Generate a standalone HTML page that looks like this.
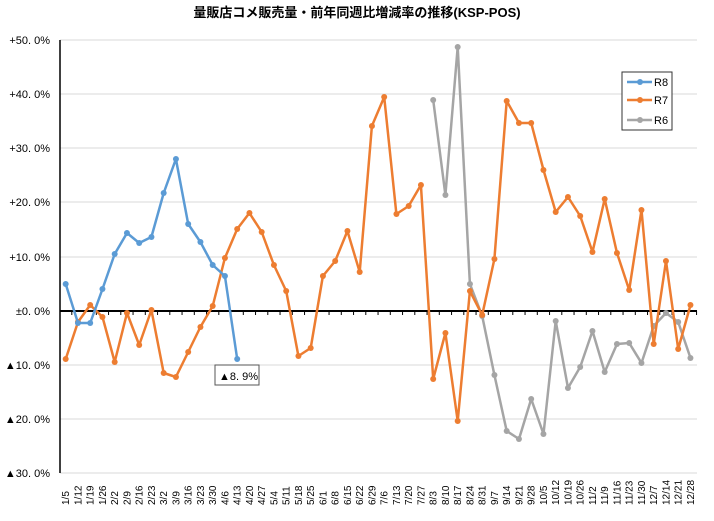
<!DOCTYPE html>
<html><head><meta charset="utf-8"><style>
html,body{margin:0;padding:0;background:#fff;}
svg{display:block;font-family:"Liberation Sans","Noto Sans CJK JP",sans-serif;}
</style></head><body>
<svg id="s" width="714" height="521" xmlns="http://www.w3.org/2000/svg">
<rect width="714" height="521" fill="#fff"/>
<text x="357" y="17" text-anchor="middle" font-size="13" font-weight="bold" fill="#000">量販店コメ販売量・前年同週比増減率の推移(KSP-POS)</text>
<g id="grid" stroke="#d9d9d9" stroke-width="1"></g>
<g id="ylab" font-size="11" fill="#000" text-anchor="end"></g>
<line x1="60" y1="40" x2="60" y2="473" stroke="#000" stroke-width="1.5"/>
<line x1="60" y1="311" x2="697" y2="311" stroke="#000" stroke-width="2"/>
<g id="ticks" stroke="#000" stroke-width="1"></g>
<g id="xlab" font-size="10" fill="#000"></g>
<g id="series"></g>
<rect x="215" y="365" width="44" height="20" fill="#fff" stroke="#555" stroke-width="1"/>
<text x="219" y="380" font-size="11" fill="#000">▲8. 9%</text>
<rect x="622" y="72" width="50" height="58" fill="#fff" stroke="#333" stroke-width="1"/>
<g font-size="11" fill="#000">
<line x1="627" y1="82" x2="652" y2="82" stroke="#5b9bd5" stroke-width="2.5"/><circle cx="640" cy="82" r="3" fill="#5b9bd5"/><text x="654" y="86">R8</text>
<line x1="627" y1="100" x2="652" y2="100" stroke="#ed7d31" stroke-width="2.5"/><circle cx="640" cy="100" r="3" fill="#ed7d31"/><text x="654" y="104">R7</text>
<line x1="627" y1="120" x2="652" y2="120" stroke="#a5a5a5" stroke-width="2.5"/><circle cx="640" cy="120" r="3" fill="#a5a5a5"/><text x="654" y="124">R6</text>
</g>
</svg>
<script>
var NS="http://www.w3.org/2000/svg";
function el(p,t,a,txt){var e=document.createElementNS(NS,t);for(var k in a)e.setAttribute(k,a[k]);if(txt!=null)e.textContent=txt;document.getElementById(p).appendChild(e);return e;}
var ys=[40,94,148,202,257,311,365,419,473];
var yl=["+50. 0%","+40. 0%","+30. 0%","+20. 0%","+10. 0%","±0. 0%","▲10. 0%","▲20. 0%","▲30. 0%"];
ys.forEach(function(y,i){if(i!=5)el("grid","line",{x1:60,y1:y,x2:697,y2:y});el("ylab","text",{x:50,y:y+4},yl[i]);});
var labs=["1/5","1/12","1/19","1/26","2/2","2/9","2/16","2/23","3/2","3/9","3/16","3/23","3/30","4/6","4/13","4/20","4/27","5/4","5/11","5/18","5/25","6/1","6/8","6/15","6/22","6/29","7/6","7/13","7/20","7/27","8/3","8/10","8/17","8/24","8/31","9/7","9/14","9/21","9/28","10/5","10/12","10/19","10/26","11/2","11/9","11/16","11/23","11/30","12/7","12/14","12/21","12/28"];
function X(i){return 65.7+i*12.25;}
labs.forEach(function(l,i){var x=X(i);el("ticks","line",{x1:x+6.1,y1:311,x2:x+6.1,y2:315});
el("xlab","text",{x:0,y:0,transform:"translate("+(x+3.5)+",505) rotate(-90)"},l);});
var r8=[284,323,323,289,254,233,243,237,193,159,224,242,265,276,359];
var r7=[359,322,305,317,362,313,345,310,373,377,352,327,306,258,229,213,232,265,291,356,348,276,261,231,272,126,97,214,206,185,379,333,421,291,315,259,101,123,123,170,212,197,216,252,199,253,290,210,344,261,349,305];
var r6=[100,195,47,284,316,375,431,439,399,434,321,388,367,331,372,344,343,363,326,313,322,358];
function draw(d,off,c){var pts=d.map(function(y,i){return X(i+off).toFixed(1)+","+y;}).join(" ");
el("series","polyline",{points:pts,fill:"none",stroke:c,"stroke-width":2.5,"stroke-linejoin":"round"});
d.forEach(function(y,i){el("series","circle",{cx:X(i+off),cy:y,r:3,fill:c});});}
draw(r6,30,"#a5a5a5");draw(r7,0,"#ed7d31");draw(r8,0,"#5b9bd5");
</script>
</body></html>
